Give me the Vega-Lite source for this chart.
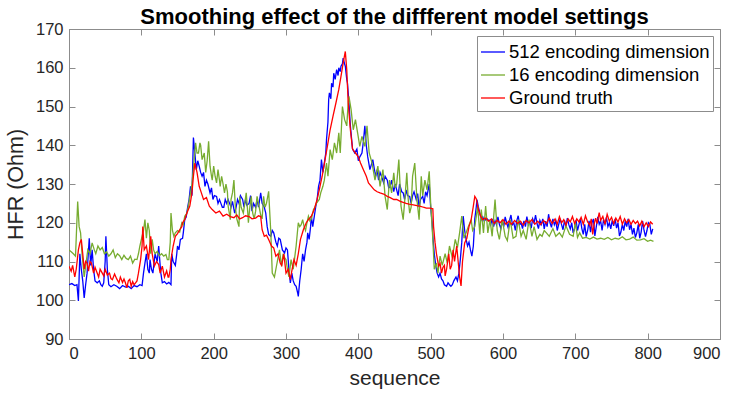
{
"$schema":"https://vega.github.io/schema/vega-lite/v6.json",
"width":651,"height":310,
"autosize":{"type":"none"},
"padding":{"left":69,"top":29,"right":14,"bottom":60},
"background":"white",
"title":{"text":"Smoothing effect of the diffferent model settings","fontSize":22,"fontWeight":"bold","font":"Liberation Sans","color":"#000000","offset":-8,"anchor":"middle"},
"config":{"view":{"stroke":"#8c8c8c","strokeWidth":1},"font":"Liberation Sans"},
"data":{"values":[
{"k":"a","s":0,"v":104},{"k":"a","s":4,"v":104.3},{"k":"a","s":8,"v":103.8},{"k":"a","s":11,"v":104},{"k":"a","s":13,"v":99.8},{"k":"a","s":15,"v":112},{"k":"a","s":17,"v":108},{"k":"a","s":19,"v":105},{"k":"a","s":21,"v":100.6},{"k":"a","s":23,"v":104},{"k":"a","s":25,"v":107},{"k":"a","s":28,"v":116},{"k":"a","s":30,"v":109},{"k":"a","s":32,"v":113},{"k":"a","s":34,"v":108},{"k":"a","s":36,"v":105},{"k":"a","s":39,"v":104.5},{"k":"a","s":42,"v":105},{"k":"a","s":44,"v":104},{"k":"a","s":46,"v":103.6},{"k":"a","s":48,"v":104.5},{"k":"a","s":50,"v":110},{"k":"a","s":51,"v":116.5},{"k":"a","s":53,"v":108},{"k":"a","s":55,"v":104},{"k":"a","s":58,"v":103.5},{"k":"a","s":62,"v":104},{"k":"a","s":66,"v":103.6},{"k":"a","s":70,"v":103},{"k":"a","s":74,"v":103.8},{"k":"a","s":78,"v":103.4},{"k":"a","s":82,"v":103.6},{"k":"a","s":86,"v":103},{"k":"a","s":90,"v":103.8},{"k":"a","s":94,"v":103.5},{"k":"a","s":98,"v":104},{"k":"a","s":101,"v":103.8},{"k":"a","s":103,"v":107},{"k":"a","s":105,"v":109.6},{"k":"a","s":107,"v":112},{"k":"a","s":109,"v":108},{"k":"a","s":111,"v":107},{"k":"a","s":112,"v":110.5},{"k":"a","s":114,"v":108},{"k":"a","s":116,"v":107},{"k":"a","s":119,"v":112},{"k":"a","s":122,"v":110},{"k":"a","s":124,"v":114},{"k":"a","s":126,"v":109},{"k":"a","s":127,"v":107},{"k":"a","s":129,"v":104.5},{"k":"a","s":132,"v":104.8},{"k":"a","s":135,"v":104.2},{"k":"a","s":138,"v":104.6},{"k":"a","s":141,"v":104},{"k":"a","s":142,"v":112},{"k":"a","s":144,"v":110},{"k":"a","s":147,"v":109},{"k":"a","s":149,"v":112},{"k":"a","s":150,"v":114},{"k":"a","s":152,"v":113},{"k":"a","s":154,"v":115.7},{"k":"a","s":157,"v":116},{"k":"a","s":158,"v":117.4},{"k":"a","s":160,"v":120.8},{"k":"a","s":162,"v":121.5},{"k":"a","s":164,"v":124},{"k":"a","s":166,"v":126},{"k":"a","s":168,"v":129.4},{"k":"a","s":170,"v":127},{"k":"a","s":172,"v":142},{"k":"a","s":174,"v":138},{"k":"a","s":176,"v":133.7},{"k":"a","s":178,"v":136},{"k":"a","s":180,"v":134.6},{"k":"a","s":182,"v":133},{"k":"a","s":184,"v":132},{"k":"a","s":186,"v":133},{"k":"a","s":188,"v":129.4},{"k":"a","s":190,"v":131},{"k":"a","s":192,"v":130},{"k":"a","s":195,"v":127.7},{"k":"a","s":197,"v":129},{"k":"a","s":199,"v":126},{"k":"a","s":201,"v":127},{"k":"a","s":204,"v":126.8},{"k":"a","s":206,"v":125},{"k":"a","s":208,"v":126},{"k":"a","s":210,"v":125},{"k":"a","s":212,"v":124},{"k":"a","s":214,"v":124},{"k":"a","s":216,"v":126},{"k":"a","s":218,"v":125},{"k":"a","s":220,"v":126},{"k":"a","s":222,"v":125},{"k":"a","s":224,"v":124},{"k":"a","s":226,"v":125.5},{"k":"a","s":229,"v":122.5},{"k":"a","s":231,"v":124},{"k":"a","s":233,"v":126},{"k":"a","s":235,"v":125},{"k":"a","s":237,"v":127},{"k":"a","s":240,"v":126},{"k":"a","s":242,"v":124},{"k":"a","s":244,"v":126},{"k":"a","s":246,"v":124.5},{"k":"a","s":249,"v":125},{"k":"a","s":251,"v":127},{"k":"a","s":253,"v":123},{"k":"a","s":255,"v":125},{"k":"a","s":258,"v":124},{"k":"a","s":260,"v":126},{"k":"a","s":262,"v":124},{"k":"a","s":265,"v":127.7},{"k":"a","s":267,"v":125},{"k":"a","s":270,"v":124},{"k":"a","s":272,"v":122.5},{"k":"a","s":274,"v":119},{"k":"a","s":276,"v":117},{"k":"a","s":279,"v":116.5},{"k":"a","s":281,"v":118},{"k":"a","s":283,"v":117.4},{"k":"a","s":286,"v":115},{"k":"a","s":288,"v":114},{"k":"a","s":290,"v":116},{"k":"a","s":292,"v":115.7},{"k":"a","s":295,"v":113},{"k":"a","s":298,"v":112.2},{"k":"a","s":300,"v":113.5},{"k":"a","s":302,"v":113},{"k":"a","s":304,"v":108},{"k":"a","s":306,"v":104.5},{"k":"a","s":308,"v":107},{"k":"a","s":310,"v":105},{"k":"a","s":312,"v":104},{"k":"a","s":314,"v":103.6},{"k":"a","s":316,"v":102},{"k":"a","s":317,"v":101},{"k":"a","s":319,"v":105},{"k":"a","s":321,"v":108},{"k":"a","s":323,"v":112},{"k":"a","s":325,"v":110},{"k":"a","s":327,"v":113},{"k":"a","s":329,"v":115},{"k":"a","s":330,"v":117.4},{"k":"a","s":332,"v":115.7},{"k":"a","s":334,"v":119},{"k":"a","s":335,"v":121.7},{"k":"a","s":337,"v":119},{"k":"a","s":339,"v":121.5},{"k":"a","s":341,"v":124},{"k":"a","s":343,"v":126},{"k":"a","s":345,"v":129.4},{"k":"a","s":347,"v":131},{"k":"a","s":349,"v":136.3},{"k":"a","s":351,"v":133},{"k":"a","s":353,"v":135.4},{"k":"a","s":355,"v":138},{"k":"a","s":356,"v":141.5},{"k":"a","s":358,"v":146},{"k":"a","s":359,"v":151.8},{"k":"a","s":360,"v":153.5},{"k":"a","s":362,"v":152},{"k":"a","s":363,"v":156},{"k":"a","s":365,"v":155},{"k":"a","s":366,"v":158.6},{"k":"a","s":368,"v":157},{"k":"a","s":370,"v":159.5},{"k":"a","s":372,"v":158},{"k":"a","s":373,"v":160},{"k":"a","s":375,"v":159},{"k":"a","s":376,"v":160.4},{"k":"a","s":378,"v":161},{"k":"a","s":379,"v":162.5},{"k":"a","s":381,"v":161},{"k":"a","s":382,"v":160.4},{"k":"a","s":384,"v":157},{"k":"a","s":385,"v":156},{"k":"a","s":387,"v":151},{"k":"a","s":389,"v":145},{"k":"a","s":392,"v":139},{"k":"a","s":395,"v":138},{"k":"a","s":398,"v":139},{"k":"a","s":400,"v":136},{"k":"a","s":402,"v":137},{"k":"a","s":405,"v":138},{"k":"a","s":407,"v":141},{"k":"a","s":409,"v":145},{"k":"a","s":411,"v":140},{"k":"a","s":413,"v":137},{"k":"a","s":416,"v":133.7},{"k":"a","s":418,"v":135},{"k":"a","s":420,"v":136.3},{"k":"a","s":422,"v":134},{"k":"a","s":424,"v":132},{"k":"a","s":426,"v":133.7},{"k":"a","s":428,"v":131},{"k":"a","s":430,"v":133},{"k":"a","s":432,"v":132},{"k":"a","s":435,"v":130.3},{"k":"a","s":437,"v":132},{"k":"a","s":440,"v":131},{"k":"a","s":442,"v":129},{"k":"a","s":444,"v":129.4},{"k":"a","s":446,"v":131},{"k":"a","s":449,"v":128},{"k":"a","s":451,"v":130},{"k":"a","s":453,"v":128.5},{"k":"a","s":455,"v":127},{"k":"a","s":457,"v":130},{"k":"a","s":460,"v":128},{"k":"a","s":462,"v":127.7},{"k":"a","s":464,"v":126},{"k":"a","s":466,"v":128.5},{"k":"a","s":468,"v":127},{"k":"a","s":471,"v":126.8},{"k":"a","s":473,"v":125},{"k":"a","s":475,"v":127},{"k":"a","s":477,"v":128},{"k":"a","s":480,"v":126},{"k":"a","s":482,"v":127.5},{"k":"a","s":484,"v":124},{"k":"a","s":486,"v":126},{"k":"a","s":489,"v":126.8},{"k":"a","s":491,"v":125},{"k":"a","s":493,"v":128},{"k":"a","s":495,"v":127},{"k":"a","s":497,"v":129},{"k":"a","s":498,"v":130},{"k":"a","s":500,"v":124},{"k":"a","s":502,"v":120},{"k":"a","s":503,"v":116.5},{"k":"a","s":505,"v":112},{"k":"a","s":507,"v":109},{"k":"a","s":509,"v":107},{"k":"a","s":511,"v":106},{"k":"a","s":513,"v":107},{"k":"a","s":515,"v":105.5},{"k":"a","s":517,"v":105},{"k":"a","s":519,"v":104},{"k":"a","s":522,"v":103.6},{"k":"a","s":524,"v":104.5},{"k":"a","s":526,"v":104},{"k":"a","s":528,"v":103.6},{"k":"a","s":530,"v":104},{"k":"a","s":532,"v":105},{"k":"a","s":535,"v":106},{"k":"a","s":537,"v":105},{"k":"a","s":539,"v":107},{"k":"a","s":541,"v":110.5},{"k":"a","s":543,"v":115},{"k":"a","s":545,"v":121.7},{"k":"a","s":547,"v":118},{"k":"a","s":549,"v":115.7},{"k":"a","s":551,"v":114},{"k":"a","s":553,"v":115},{"k":"a","s":555,"v":113},{"k":"a","s":557,"v":111.4},{"k":"a","s":559,"v":114},{"k":"a","s":560,"v":117.4},{"k":"a","s":561,"v":121},{"k":"a","s":563,"v":124},{"k":"a","s":564,"v":126},{"k":"a","s":566,"v":124},{"k":"a","s":568,"v":122.5},{"k":"a","s":570,"v":120.8},{"k":"a","s":572,"v":121.5},{"k":"a","s":574,"v":120.5},{"k":"a","s":576,"v":120.8},{"k":"a","s":578,"v":121},{"k":"a","s":581,"v":120.4},{"k":"a","s":583,"v":119.5},{"k":"a","s":585,"v":121},{"k":"a","s":587,"v":119},{"k":"a","s":589,"v":120.5},{"k":"a","s":591,"v":119.5},{"k":"a","s":593,"v":121.5},{"k":"a","s":595,"v":119.6},{"k":"a","s":597,"v":118.5},{"k":"a","s":599,"v":120.5},{"k":"a","s":601,"v":119},{"k":"a","s":603,"v":121.5},{"k":"a","s":605,"v":120},{"k":"a","s":607,"v":118.8},{"k":"a","s":609,"v":120.6},{"k":"a","s":611,"v":122},{"k":"a","s":613,"v":119.5},{"k":"a","s":615,"v":120},{"k":"a","s":617,"v":118},{"k":"a","s":619,"v":120.5},{"k":"a","s":621,"v":121.8},{"k":"a","s":623,"v":119.5},{"k":"a","s":625,"v":120},{"k":"a","s":627,"v":118.5},{"k":"a","s":629,"v":120.5},{"k":"a","s":631,"v":119},{"k":"a","s":633,"v":121.6},{"k":"a","s":635,"v":119.5},{"k":"a","s":637,"v":120.2},{"k":"a","s":639,"v":118.6},{"k":"a","s":641,"v":121},{"k":"a","s":643,"v":120},{"k":"a","s":645,"v":122},{"k":"a","s":647,"v":119.8},{"k":"a","s":649,"v":118.5},{"k":"a","s":651,"v":120.6},{"k":"a","s":653,"v":119.6},{"k":"a","s":655,"v":121},{"k":"a","s":657,"v":118.4},{"k":"a","s":659,"v":120.4},{"k":"a","s":661,"v":119},{"k":"a","s":663,"v":122.2},{"k":"a","s":665,"v":120},{"k":"a","s":667,"v":118.8},{"k":"a","s":669,"v":121},{"k":"a","s":671,"v":119.5},{"k":"a","s":673,"v":120.5},{"k":"a","s":675,"v":118},{"k":"a","s":677,"v":119.6},{"k":"a","s":679,"v":121},{"k":"a","s":681,"v":119.5},{"k":"a","s":683,"v":118.2},{"k":"a","s":685,"v":120.6},{"k":"a","s":687,"v":119},{"k":"a","s":689,"v":121.2},{"k":"a","s":691,"v":119.5},{"k":"a","s":693,"v":118.4},{"k":"a","s":695,"v":120},{"k":"a","s":697,"v":117.4},{"k":"a","s":699,"v":118.5},{"k":"a","s":701,"v":120.6},{"k":"a","s":703,"v":118},{"k":"a","s":705,"v":119.5},{"k":"a","s":707,"v":121},{"k":"a","s":709,"v":118.5},{"k":"a","s":711,"v":117},{"k":"a","s":713,"v":119.6},{"k":"a","s":715,"v":116.4},{"k":"a","s":717,"v":118},{"k":"a","s":719,"v":120.5},{"k":"a","s":721,"v":117.6},{"k":"a","s":723,"v":120},{"k":"a","s":725,"v":121},{"k":"a","s":727,"v":116.6},{"k":"a","s":729,"v":119},{"k":"a","s":731,"v":121.5},{"k":"a","s":733,"v":119.6},{"k":"a","s":735,"v":120.5},{"k":"a","s":737,"v":118},{"k":"a","s":739,"v":120.8},{"k":"a","s":741,"v":119.6},{"k":"a","s":743,"v":121.4},{"k":"a","s":745,"v":119},{"k":"a","s":747,"v":120},{"k":"a","s":749,"v":118.4},{"k":"a","s":751,"v":120.6},{"k":"a","s":753,"v":119.2},{"k":"a","s":755,"v":121},{"k":"a","s":757,"v":118.6},{"k":"a","s":759,"v":120},{"k":"a","s":761,"v":116.6},{"k":"a","s":763,"v":117.6},{"k":"a","s":765,"v":119.6},{"k":"a","s":767,"v":118},{"k":"a","s":769,"v":120.4},{"k":"a","s":771,"v":119},{"k":"a","s":773,"v":121},{"k":"a","s":775,"v":118.2},{"k":"a","s":777,"v":119.6},{"k":"a","s":779,"v":117},{"k":"a","s":781,"v":118.6},{"k":"a","s":783,"v":116.2},{"k":"a","s":785,"v":117.4},{"k":"a","s":787,"v":119.6},{"k":"a","s":789,"v":116},{"k":"a","s":791,"v":117.6},{"k":"a","s":793,"v":120.4},{"k":"a","s":795,"v":118},{"k":"a","s":797,"v":116.4},{"k":"a","s":799,"v":118},{"k":"a","s":801,"v":120},{"k":"a","s":803,"v":119.6},{"k":"a","s":805,"v":117},{"k":"a","s":807,"v":118.4},
{"k":"b","s":0,"v":113},{"k":"b","s":3,"v":112.5},{"k":"b","s":6,"v":112},{"k":"b","s":9,"v":111.4},{"k":"b","s":12,"v":125.5},{"k":"b","s":14,"v":119},{"k":"b","s":16,"v":117.4},{"k":"b","s":18,"v":112},{"k":"b","s":21,"v":106},{"k":"b","s":23,"v":108.8},{"k":"b","s":26,"v":113},{"k":"b","s":29,"v":112},{"k":"b","s":32,"v":114.8},{"k":"b","s":35,"v":113},{"k":"b","s":37,"v":112},{"k":"b","s":40,"v":114},{"k":"b","s":43,"v":113},{"k":"b","s":46,"v":113.6},{"k":"b","s":49,"v":112},{"k":"b","s":52,"v":112.5},{"k":"b","s":55,"v":111.4},{"k":"b","s":58,"v":112},{"k":"b","s":61,"v":113},{"k":"b","s":64,"v":111},{"k":"b","s":67,"v":112},{"k":"b","s":70,"v":111.5},{"k":"b","s":73,"v":110.5},{"k":"b","s":76,"v":111.6},{"k":"b","s":79,"v":110.8},{"k":"b","s":82,"v":110.5},{"k":"b","s":85,"v":111.4},{"k":"b","s":88,"v":109.6},{"k":"b","s":91,"v":110.6},{"k":"b","s":94,"v":110.5},{"k":"b","s":96,"v":112},{"k":"b","s":98,"v":114},{"k":"b","s":101,"v":116.5},{"k":"b","s":103,"v":118},{"k":"b","s":105,"v":120.8},{"k":"b","s":107,"v":116},{"k":"b","s":109,"v":120},{"k":"b","s":111,"v":118},{"k":"b","s":113,"v":112},{"k":"b","s":115,"v":115.7},{"k":"b","s":117,"v":113},{"k":"b","s":119,"v":112},{"k":"b","s":122,"v":112.6},{"k":"b","s":125,"v":111.5},{"k":"b","s":128,"v":112},{"k":"b","s":131,"v":111.4},{"k":"b","s":134,"v":111.8},{"k":"b","s":136,"v":110.5},{"k":"b","s":138,"v":110.5},{"k":"b","s":140,"v":115},{"k":"b","s":141,"v":122.5},{"k":"b","s":143,"v":118},{"k":"b","s":145,"v":116.5},{"k":"b","s":147,"v":117.4},{"k":"b","s":150,"v":118},{"k":"b","s":153,"v":117.6},{"k":"b","s":156,"v":120},{"k":"b","s":158,"v":119.5},{"k":"b","s":160,"v":121.7},{"k":"b","s":163,"v":122.5},{"k":"b","s":165,"v":124.3},{"k":"b","s":168,"v":127.7},{"k":"b","s":170,"v":130},{"k":"b","s":173,"v":136.3},{"k":"b","s":175,"v":140.6},{"k":"b","s":177,"v":138},{"k":"b","s":179,"v":138},{"k":"b","s":181,"v":140.6},{"k":"b","s":182,"v":140},{"k":"b","s":184,"v":136.3},{"k":"b","s":187,"v":138},{"k":"b","s":189,"v":133},{"k":"b","s":191,"v":136},{"k":"b","s":193,"v":141},{"k":"b","s":195,"v":134.6},{"k":"b","s":197,"v":132},{"k":"b","s":198,"v":131},{"k":"b","s":200,"v":134.6},{"k":"b","s":202,"v":132},{"k":"b","s":204,"v":130.3},{"k":"b","s":206,"v":133.7},{"k":"b","s":208,"v":131},{"k":"b","s":209,"v":129.4},{"k":"b","s":211,"v":132},{"k":"b","s":213,"v":130},{"k":"b","s":215,"v":127.7},{"k":"b","s":217,"v":130},{"k":"b","s":219,"v":128},{"k":"b","s":220,"v":124.3},{"k":"b","s":222,"v":122},{"k":"b","s":223,"v":120.8},{"k":"b","s":224,"v":126},{"k":"b","s":226,"v":127.7},{"k":"b","s":228,"v":131},{"k":"b","s":230,"v":124},{"k":"b","s":232,"v":121},{"k":"b","s":235,"v":119},{"k":"b","s":236,"v":126.8},{"k":"b","s":238,"v":124},{"k":"b","s":241,"v":122.5},{"k":"b","s":243,"v":125},{"k":"b","s":245,"v":127.7},{"k":"b","s":247,"v":123},{"k":"b","s":248,"v":120},{"k":"b","s":250,"v":124},{"k":"b","s":252,"v":126.8},{"k":"b","s":254,"v":122.5},{"k":"b","s":256,"v":121},{"k":"b","s":258,"v":123},{"k":"b","s":260,"v":126.8},{"k":"b","s":263,"v":124},{"k":"b","s":265,"v":122},{"k":"b","s":267,"v":121},{"k":"b","s":269,"v":126.8},{"k":"b","s":271,"v":124},{"k":"b","s":273,"v":125},{"k":"b","s":276,"v":128.1},{"k":"b","s":278,"v":121},{"k":"b","s":279,"v":117.4},{"k":"b","s":281,"v":107},{"k":"b","s":284,"v":106},{"k":"b","s":286,"v":108},{"k":"b","s":288,"v":110},{"k":"b","s":291,"v":113},{"k":"b","s":293,"v":110},{"k":"b","s":294,"v":108.8},{"k":"b","s":296,"v":112},{"k":"b","s":298,"v":111},{"k":"b","s":300,"v":110.5},{"k":"b","s":302,"v":108},{"k":"b","s":304,"v":106},{"k":"b","s":307,"v":110.5},{"k":"b","s":309,"v":108.8},{"k":"b","s":310,"v":108},{"k":"b","s":312,"v":111},{"k":"b","s":314,"v":114},{"k":"b","s":317,"v":120},{"k":"b","s":319,"v":119},{"k":"b","s":321,"v":119.5},{"k":"b","s":323,"v":120.8},{"k":"b","s":325,"v":119},{"k":"b","s":327,"v":118},{"k":"b","s":329,"v":120},{"k":"b","s":331,"v":121.7},{"k":"b","s":333,"v":120.5},{"k":"b","s":335,"v":121},{"k":"b","s":337,"v":122.5},{"k":"b","s":338,"v":123.4},{"k":"b","s":340,"v":124},{"k":"b","s":342,"v":125},{"k":"b","s":344,"v":125.5},{"k":"b","s":346,"v":126},{"k":"b","s":348,"v":127.7},{"k":"b","s":351,"v":129.4},{"k":"b","s":353,"v":131},{"k":"b","s":356,"v":135.4},{"k":"b","s":358,"v":132},{"k":"b","s":361,"v":138.9},{"k":"b","s":364,"v":136.3},{"k":"b","s":367,"v":140.6},{"k":"b","s":370,"v":138},{"k":"b","s":373,"v":143.2},{"k":"b","s":375,"v":138},{"k":"b","s":378,"v":150},{"k":"b","s":381,"v":146.6},{"k":"b","s":384,"v":145},{"k":"b","s":386,"v":151},{"k":"b","s":387,"v":152.6},{"k":"b","s":390,"v":149.2},{"k":"b","s":393,"v":144},{"k":"b","s":396,"v":146.6},{"k":"b","s":399,"v":143.2},{"k":"b","s":402,"v":139.7},{"k":"b","s":405,"v":142.3},{"k":"b","s":409,"v":139.7},{"k":"b","s":412,"v":145},{"k":"b","s":415,"v":138},{"k":"b","s":419,"v":135.4},{"k":"b","s":423,"v":131},{"k":"b","s":427,"v":134.6},{"k":"b","s":430,"v":129.4},{"k":"b","s":434,"v":133.7},{"k":"b","s":437,"v":126.8},{"k":"b","s":440,"v":123.4},{"k":"b","s":443,"v":131},{"k":"b","s":446,"v":127.7},{"k":"b","s":449,"v":132.9},{"k":"b","s":451,"v":129},{"k":"b","s":453,"v":130},{"k":"b","s":456,"v":136.3},{"k":"b","s":459,"v":124.3},{"k":"b","s":462,"v":120.8},{"k":"b","s":465,"v":127.7},{"k":"b","s":467,"v":132.9},{"k":"b","s":469,"v":126},{"k":"b","s":471,"v":122.5},{"k":"b","s":473,"v":124},{"k":"b","s":475,"v":132},{"k":"b","s":478,"v":135.4},{"k":"b","s":481,"v":126},{"k":"b","s":484,"v":120.8},{"k":"b","s":487,"v":132},{"k":"b","s":489,"v":127},{"k":"b","s":492,"v":131},{"k":"b","s":495,"v":128.5},{"k":"b","s":498,"v":133.3},{"k":"b","s":500,"v":125},{"k":"b","s":503,"v":115.7},{"k":"b","s":505,"v":108},{"k":"b","s":508,"v":109.6},{"k":"b","s":510,"v":107},{"k":"b","s":513,"v":111.4},{"k":"b","s":516,"v":109},{"k":"b","s":520,"v":112},{"k":"b","s":523,"v":109.6},{"k":"b","s":526,"v":114},{"k":"b","s":530,"v":111},{"k":"b","s":534,"v":115.7},{"k":"b","s":537,"v":113.6},{"k":"b","s":540,"v":117.4},{"k":"b","s":543,"v":121.7},{"k":"b","s":546,"v":116},{"k":"b","s":549,"v":117.4},{"k":"b","s":552,"v":119},{"k":"b","s":556,"v":120.8},{"k":"b","s":558,"v":118},{"k":"b","s":561,"v":119},{"k":"b","s":563,"v":121.5},{"k":"b","s":565,"v":124.3},{"k":"b","s":568,"v":117},{"k":"b","s":570,"v":123.4},{"k":"b","s":573,"v":117.4},{"k":"b","s":576,"v":124.3},{"k":"b","s":579,"v":117.4},{"k":"b","s":582,"v":120.8},{"k":"b","s":585,"v":116.5},{"k":"b","s":589,"v":126},{"k":"b","s":592,"v":118},{"k":"b","s":595,"v":115.7},{"k":"b","s":599,"v":120.8},{"k":"b","s":603,"v":116.5},{"k":"b","s":606,"v":115.4},{"k":"b","s":610,"v":120.8},{"k":"b","s":614,"v":116},{"k":"b","s":618,"v":116.5},{"k":"b","s":621,"v":120.8},{"k":"b","s":625,"v":116.5},{"k":"b","s":628,"v":118},{"k":"b","s":632,"v":115.7},{"k":"b","s":636,"v":120.8},{"k":"b","s":640,"v":116.5},{"k":"b","s":643,"v":119},{"k":"b","s":647,"v":115.7},{"k":"b","s":651,"v":117},{"k":"b","s":654,"v":116.5},{"k":"b","s":657,"v":118},{"k":"b","s":660,"v":117.4},{"k":"b","s":664,"v":116.5},{"k":"b","s":669,"v":118.5},{"k":"b","s":673,"v":116.5},{"k":"b","s":678,"v":117.4},{"k":"b","s":682,"v":116.3},{"k":"b","s":687,"v":119.2},{"k":"b","s":692,"v":117},{"k":"b","s":697,"v":116.5},{"k":"b","s":700,"v":120.2},{"k":"b","s":703,"v":116.2},{"k":"b","s":706,"v":117.4},{"k":"b","s":710,"v":116},{"k":"b","s":715,"v":116.2},{"k":"b","s":720,"v":115.8},{"k":"b","s":725,"v":116.3},{"k":"b","s":730,"v":115.8},{"k":"b","s":735,"v":116},{"k":"b","s":740,"v":115.7},{"k":"b","s":745,"v":116.2},{"k":"b","s":750,"v":115.6},{"k":"b","s":755,"v":116},{"k":"b","s":760,"v":115.8},{"k":"b","s":765,"v":116.4},{"k":"b","s":770,"v":115.6},{"k":"b","s":775,"v":115.8},{"k":"b","s":780,"v":116.3},{"k":"b","s":785,"v":115.5},{"k":"b","s":790,"v":115.6},{"k":"b","s":795,"v":115.9},{"k":"b","s":800,"v":115.2},{"k":"b","s":804,"v":115.5},{"k":"b","s":808,"v":115.2},
{"k":"c","s":0,"v":108.8},{"k":"c","s":3,"v":107.5},{"k":"c","s":5,"v":109},{"k":"c","s":8,"v":106},{"k":"c","s":10,"v":108},{"k":"c","s":13,"v":113},{"k":"c","s":15,"v":114.8},{"k":"c","s":17,"v":115.7},{"k":"c","s":19,"v":112},{"k":"c","s":21,"v":108},{"k":"c","s":23,"v":110},{"k":"c","s":25,"v":109.6},{"k":"c","s":27,"v":107.5},{"k":"c","s":29,"v":110},{"k":"c","s":31,"v":109.6},{"k":"c","s":34,"v":107},{"k":"c","s":36,"v":108.5},{"k":"c","s":38,"v":107.5},{"k":"c","s":41,"v":106},{"k":"c","s":43,"v":108},{"k":"c","s":46,"v":107},{"k":"c","s":48,"v":106.3},{"k":"c","s":50,"v":108},{"k":"c","s":53,"v":106.5},{"k":"c","s":56,"v":107},{"k":"c","s":58,"v":105.6},{"k":"c","s":60,"v":105.3},{"k":"c","s":63,"v":106.8},{"k":"c","s":66,"v":105.5},{"k":"c","s":69,"v":104.5},{"k":"c","s":71,"v":106},{"k":"c","s":74,"v":104.6},{"k":"c","s":76,"v":105.5},{"k":"c","s":78,"v":104.5},{"k":"c","s":80,"v":103.2},{"k":"c","s":82,"v":105},{"k":"c","s":84,"v":105.4},{"k":"c","s":86,"v":103.6},{"k":"c","s":88,"v":104.8},{"k":"c","s":90,"v":104},{"k":"c","s":92,"v":104.5},{"k":"c","s":94,"v":105},{"k":"c","s":96,"v":107},{"k":"c","s":99,"v":110.5},{"k":"c","s":101,"v":114},{"k":"c","s":102,"v":119},{"k":"c","s":104,"v":113},{"k":"c","s":107,"v":114},{"k":"c","s":110,"v":110.5},{"k":"c","s":113,"v":116.5},{"k":"c","s":115,"v":112},{"k":"c","s":118,"v":108.8},{"k":"c","s":121,"v":110},{"k":"c","s":124,"v":109.2},{"k":"c","s":126,"v":107},{"k":"c","s":129,"v":108.8},{"k":"c","s":132,"v":106},{"k":"c","s":135,"v":107.6},{"k":"c","s":137,"v":106},{"k":"c","s":138,"v":106},{"k":"c","s":140,"v":108},{"k":"c","s":141,"v":110.5},{"k":"c","s":144,"v":114},{"k":"c","s":147,"v":116.5},{"k":"c","s":150,"v":117.2},{"k":"c","s":153,"v":118.2},{"k":"c","s":156,"v":119},{"k":"c","s":157,"v":120},{"k":"c","s":160,"v":120.8},{"k":"c","s":163,"v":122.5},{"k":"c","s":167,"v":124.3},{"k":"c","s":170,"v":127.7},{"k":"c","s":172,"v":132},{"k":"c","s":174,"v":135.4},{"k":"c","s":177,"v":133},{"k":"c","s":180,"v":129.4},{"k":"c","s":183,"v":127.7},{"k":"c","s":186,"v":126},{"k":"c","s":190,"v":126.5},{"k":"c","s":194,"v":124.3},{"k":"c","s":198,"v":123.4},{"k":"c","s":203,"v":122.5},{"k":"c","s":208,"v":123},{"k":"c","s":213,"v":121.7},{"k":"c","s":218,"v":122.2},{"k":"c","s":223,"v":121.6},{"k":"c","s":228,"v":121.3},{"k":"c","s":232,"v":122},{"k":"c","s":236,"v":121},{"k":"c","s":240,"v":121.3},{"k":"c","s":244,"v":121.8},{"k":"c","s":249,"v":121.6},{"k":"c","s":253,"v":121},{"k":"c","s":258,"v":121.2},{"k":"c","s":262,"v":121.8},{"k":"c","s":265,"v":121.6},{"k":"c","s":267,"v":118.2},{"k":"c","s":270,"v":116.5},{"k":"c","s":273,"v":116.8},{"k":"c","s":276,"v":115.7},{"k":"c","s":280,"v":114},{"k":"c","s":283,"v":113.5},{"k":"c","s":286,"v":111.4},{"k":"c","s":289,"v":112},{"k":"c","s":292,"v":109.6},{"k":"c","s":294,"v":109},{"k":"c","s":297,"v":112},{"k":"c","s":300,"v":107},{"k":"c","s":303,"v":108},{"k":"c","s":306,"v":105.3},{"k":"c","s":308,"v":107.5},{"k":"c","s":311,"v":110.5},{"k":"c","s":314,"v":109},{"k":"c","s":317,"v":112},{"k":"c","s":320,"v":115.7},{"k":"c","s":324,"v":118.2},{"k":"c","s":328,"v":120},{"k":"c","s":331,"v":120.8},{"k":"c","s":335,"v":121.7},{"k":"c","s":339,"v":123.4},{"k":"c","s":343,"v":126},{"k":"c","s":346,"v":128.5},{"k":"c","s":350,"v":132},{"k":"c","s":354,"v":136.3},{"k":"c","s":358,"v":140.6},{"k":"c","s":361,"v":144},{"k":"c","s":365,"v":147.5},{"k":"c","s":369,"v":150.9},{"k":"c","s":373,"v":154.4},{"k":"c","s":376,"v":157.8},{"k":"c","s":379,"v":161.2},{"k":"c","s":382,"v":164.2},{"k":"c","s":384,"v":159.5},{"k":"c","s":386,"v":151},{"k":"c","s":389,"v":144},{"k":"c","s":392,"v":139},{"k":"c","s":396,"v":138},{"k":"c","s":400,"v":137},{"k":"c","s":403,"v":135.4},{"k":"c","s":407,"v":133.7},{"k":"c","s":411,"v":132},{"k":"c","s":414,"v":130.3},{"k":"c","s":418,"v":129.4},{"k":"c","s":422,"v":128.5},{"k":"c","s":426,"v":128},{"k":"c","s":430,"v":127.7},{"k":"c","s":435,"v":127.4},{"k":"c","s":440,"v":126.8},{"k":"c","s":444,"v":126.5},{"k":"c","s":449,"v":126},{"k":"c","s":453,"v":126},{"k":"c","s":458,"v":125.5},{"k":"c","s":463,"v":125.2},{"k":"c","s":466,"v":125},{"k":"c","s":470,"v":124.8},{"k":"c","s":476,"v":124.6},{"k":"c","s":481,"v":124.4},{"k":"c","s":485,"v":124.3},{"k":"c","s":490,"v":124},{"k":"c","s":494,"v":123.8},{"k":"c","s":499,"v":123.8},{"k":"c","s":503,"v":123.6},{"k":"c","s":504,"v":119},{"k":"c","s":506,"v":115},{"k":"c","s":508,"v":112},{"k":"c","s":511,"v":108.8},{"k":"c","s":513,"v":109.5},{"k":"c","s":515,"v":107},{"k":"c","s":517,"v":108.5},{"k":"c","s":519,"v":109},{"k":"c","s":520,"v":106.3},{"k":"c","s":522,"v":108},{"k":"c","s":525,"v":112},{"k":"c","s":527,"v":108},{"k":"c","s":529,"v":109},{"k":"c","s":531,"v":113},{"k":"c","s":533,"v":110},{"k":"c","s":536,"v":114},{"k":"c","s":538,"v":110},{"k":"c","s":540,"v":106},{"k":"c","s":542,"v":103.7},{"k":"c","s":544,"v":110},{"k":"c","s":547,"v":114.8},{"k":"c","s":550,"v":116},{"k":"c","s":553,"v":119},{"k":"c","s":556,"v":120.8},{"k":"c","s":559,"v":124.3},{"k":"c","s":561,"v":126.8},{"k":"c","s":563,"v":126.2},{"k":"c","s":566,"v":123.4},{"k":"c","s":569,"v":121.7},{"k":"c","s":572,"v":120.8},{"k":"c","s":576,"v":121.2},{"k":"c","s":580,"v":120.4},{"k":"c","s":584,"v":121},{"k":"c","s":588,"v":119.8},{"k":"c","s":592,"v":120.6},{"k":"c","s":596,"v":120},{"k":"c","s":600,"v":120.8},{"k":"c","s":604,"v":119.6},{"k":"c","s":608,"v":120.4},{"k":"c","s":612,"v":119.6},{"k":"c","s":616,"v":120.6},{"k":"c","s":620,"v":119.8},{"k":"c","s":624,"v":120.4},{"k":"c","s":628,"v":119.4},{"k":"c","s":632,"v":120.6},{"k":"c","s":636,"v":120},{"k":"c","s":640,"v":120.8},{"k":"c","s":644,"v":119.6},{"k":"c","s":648,"v":120.4},{"k":"c","s":652,"v":119.5},{"k":"c","s":656,"v":120.6},{"k":"c","s":660,"v":119.8},{"k":"c","s":664,"v":121.2},{"k":"c","s":668,"v":119.8},{"k":"c","s":672,"v":121},{"k":"c","s":675,"v":119.6},{"k":"c","s":678,"v":121.6},{"k":"c","s":681,"v":120},{"k":"c","s":684,"v":120.8},{"k":"c","s":687,"v":119.4},{"k":"c","s":690,"v":121},{"k":"c","s":693,"v":120.2},{"k":"c","s":696,"v":121.6},{"k":"c","s":699,"v":119.8},{"k":"c","s":702,"v":121},{"k":"c","s":705,"v":120.2},{"k":"c","s":708,"v":121.4},{"k":"c","s":711,"v":119.6},{"k":"c","s":714,"v":121.8},{"k":"c","s":717,"v":120.2},{"k":"c","s":720,"v":119.4},{"k":"c","s":722,"v":121},{"k":"c","s":724,"v":117},{"k":"c","s":726,"v":119.6},{"k":"c","s":728,"v":121.2},{"k":"c","s":730,"v":119.8},{"k":"c","s":733,"v":122.6},{"k":"c","s":735,"v":120.6},{"k":"c","s":738,"v":121.6},{"k":"c","s":741,"v":119.6},{"k":"c","s":744,"v":122.2},{"k":"c","s":747,"v":120.4},{"k":"c","s":750,"v":121.4},{"k":"c","s":753,"v":119.8},{"k":"c","s":756,"v":121.2},{"k":"c","s":759,"v":120.2},{"k":"c","s":762,"v":121.6},{"k":"c","s":765,"v":119.6},{"k":"c","s":768,"v":121},{"k":"c","s":771,"v":120},{"k":"c","s":774,"v":120.8},{"k":"c","s":777,"v":119.6},{"k":"c","s":780,"v":120.6},{"k":"c","s":783,"v":119.8},{"k":"c","s":786,"v":120.4},{"k":"c","s":789,"v":119.2},{"k":"c","s":792,"v":120.4},{"k":"c","s":795,"v":119},{"k":"c","s":798,"v":120},{"k":"c","s":801,"v":119},{"k":"c","s":804,"v":120.2},{"k":"c","s":807,"v":119.6}
]},
"layer":[
{"mark":{"type":"line","strokeWidth":1.3,"clip":true},
 "encoding":{
  "x":{"field":"s","type":"quantitative","title":"sequence","scale":{"domain":[0,900],"nice":false,"zero":false},
       "axis":{"values":[0,100,200,300,400,500,600,700,800,900],"grid":false,"domainColor":"#8c8c8c","tickColor":"#8c8c8c","tickSize":-6,"labelPadding":12,"labelFontSize":16.5,"labelColor":"#262626","titleFontSize":21,"titleFontWeight":"normal","titleColor":"#262626","titlePadding":6,"labelFont":"Liberation Sans","titleFont":"Liberation Sans"}},
  "y":{"field":"v","type":"quantitative","title":"HFR (Ohm)","scale":{"domain":[90,170],"nice":false,"zero":false},
       "axis":{"values":[90,100,110,120,130,140,150,160,170],"grid":false,"domainColor":"#8c8c8c","tickColor":"#8c8c8c","tickSize":-6,"labelPadding":12,"labelFontSize":16.5,"labelColor":"#262626","titleFontSize":21.5,"titleFontWeight":"normal","titleColor":"#262626","titlePadding":8,"labelFont":"Liberation Sans","titleFont":"Liberation Sans"}},
  "color":{"field":"k","type":"nominal","sort":["a","b","c"],
       "scale":{"domain":["a","b","c"],"range":["#0000ff","#77ac30","#ff0000"]},
       "legend":{"title":null,"orient":"top-right","offset":7,"symbolType":"stroke","symbolSize":576,"symbolStrokeWidth":1.3,"labelFontSize":18.5,"labelColor":"#000000","labelFont":"Liberation Sans","labelLimit":400,"labelOffset":3,"strokeColor":"#8c8c8c","fillColor":"#ffffff","padding":3,"rowPadding":0,
         "labelExpr":"datum.label == 'a' ? '512 encoding dimension' : datum.label == 'b' ? '16 encoding dimension' : 'Ground truth'"}}
 }},
{"mark":{"type":"point","opacity":0},
 "encoding":{
  "x":{"field":"s","type":"quantitative","scale":{"domain":[0,900],"nice":false,"zero":false},
       "axis":{"orient":"top","values":[0,100,200,300,400,500,600,700,800,900],"labels":false,"title":null,"grid":false,"domain":false,"tickColor":"#8c8c8c","tickSize":-6}},
  "y":{"field":"v","type":"quantitative","scale":{"domain":[90,170],"nice":false,"zero":false},
       "axis":{"orient":"right","values":[90,100,110,120,130,140,150,160,170],"labels":false,"title":null,"grid":false,"domain":false,"tickColor":"#8c8c8c","tickSize":-6}}
 }}
],
"resolve":{"axis":{"x":"independent","y":"independent"}}
}
